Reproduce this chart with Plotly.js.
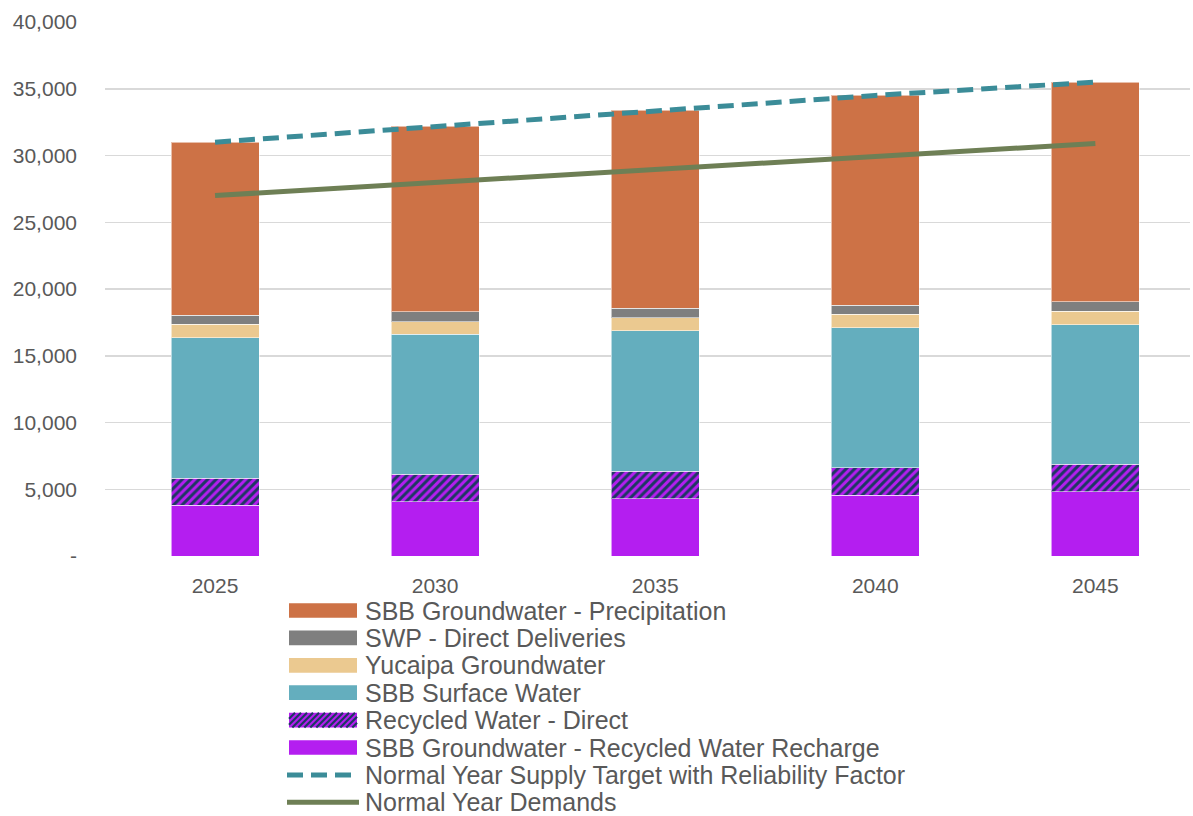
<!DOCTYPE html>
<html>
<head>
<meta charset="utf-8">
<script src="https://cdn.plot.ly/plotly-3.0.1.min.js"></script>
<style>html,body{margin:0;padding:0;background:#fff;}#chart{width:1193px;height:816px;}</style>
</head>
<body>
<div id="chart"></div>
<script>
const years = ['2025', '2030', '2035', '2040', '2045'];
const recharge = [3800, 4050, 4300, 4550, 4800];
const recycledDirect = [2025, 2075, 2050, 2050, 2055];
const surfaceWater = [10535, 10490, 10535, 10510, 10480];
const yucaipa = [1005, 945, 975, 1005, 1005];
const swpDirect = [675, 750, 705, 675, 720];
const precipitation = [12960, 13870, 14815, 15710, 16440];
const supplyTarget = [31000, 32180, 33380, 34500, 35500];
const demands = [27000, 27980, 28960, 29940, 30900];
const yTickVals = [0, 5000, 10000, 15000, 20000, 25000, 30000, 35000, 40000];
const yTickText = ['-', '5,000', '10,000', '15,000', '20,000', '25,000', '30,000', '35,000', '40,000'];

const C = {
  recharge: '#B41EF0', hatch: '#1E3862', surface: '#64AEBE', yucaipa: '#EBC990',
  swp: '#7F7F7F', precip: '#CD7246', supply: '#3B8C98', demand: '#6E7F55'
};

const edge = {color: 'rgba(255,255,255,0.55)', width: 1};
function bar(name, vals, color, pattern) {
  const m = {color: color, line: edge};
  if (pattern) m.pattern = pattern;
  return {type: 'bar', name: name, x: years, y: vals, marker: m, hoverinfo: 'name+y'};
}
const hatchPattern = {shape: '/', fgcolor: C.hatch, bgcolor: C.recharge, size: 6, solidity: 0.5};
const traces = [
  bar('SBB Groundwater - Recycled Water Recharge', recharge, C.recharge),
  bar('Recycled Water - Direct', recycledDirect, C.recharge, hatchPattern),
  bar('SBB Surface Water', surfaceWater, C.surface),
  bar('Yucaipa Groundwater', yucaipa, C.yucaipa),
  bar('SWP - Direct Deliveries', swpDirect, C.swp),
  bar('SBB Groundwater - Precipitation', precipitation, C.precip),
  {type: 'scatter', mode: 'lines', name: 'Normal Year Supply Target with Reliability Factor',
   x: years, y: supplyTarget, line: {color: C.supply, width: 5, dash: '16px,8px'}},
  {type: 'scatter', mode: 'lines', name: 'Normal Year Demands',
   x: years, y: demands, line: {color: C.demand, width: 5}}
];

// ---- layout geometry (pixels) ----
const W = 1193, H = 816;
const M = {l: 105, r: 3, t: 22, b: 260};
const PW = W - M.l - M.r, PH = H - M.t - M.b;
const px = x => (x - M.l) / PW;
const py = y => (H - M.b - y) / PH;

// ---- custom legend (order as in reference) ----
const legendOrder = [5, 4, 3, 2, 1, 0, 6, 7];
const legRow0 = 610.5, legStep = 27.4, swX0 = 289, swX1 = 357, swH = 14.7, textX = 364;
const shapes = [], annotations = [];
legendOrder.forEach((ti, i) => {
  const tr = traces[ti];
  const cy = legRow0 + i * legStep;
  if (tr.type === 'bar') {
    shapes.push({type: 'rect', xref: 'paper', yref: 'paper',
      x0: px(swX0), x1: px(swX1), y0: py(cy + swH / 2), y1: py(cy - swH / 2),
      fillcolor: tr.marker.color, line: {width: 0}});
    if (tr.marker.pattern) {
      // diagonal "/" stripes clipped to the swatch
      const y0 = cy - swH / 2, y1 = cy + swH / 2, period = 6;
      for (let c = swX0 + y0; c < swX1 + y1 + period; c += period) {
        const pts = [];
        const cand = [[c - y1, y1], [c - y0, y0], [swX0, c - swX0], [swX1, c - swX1]];
        cand.forEach(p => {
          if (p[0] >= swX0 - 1e-6 && p[0] <= swX1 + 1e-6 && p[1] >= y0 - 1e-6 && p[1] <= y1 + 1e-6) pts.push(p);
        });
        if (pts.length >= 2) {
          pts.sort((a, b) => a[0] - b[0]);
          const a = pts[0], b = pts[pts.length - 1];
          if (Math.abs(a[0] - b[0]) > 0.5) {
            shapes.push({type: 'line', xref: 'paper', yref: 'paper',
              x0: px(a[0]), y0: py(a[1]), x1: px(b[0]), y1: py(b[1]),
              line: {color: C.hatch, width: 2.2}});
          }
        }
      }
    }
  } else {
    const x1 = tr.line.dash ? 352 : 359;
    shapes.push({type: 'line', xref: 'paper', yref: 'paper',
      x0: px(287), x1: px(x1), y0: py(cy), y1: py(cy),
      line: {color: tr.line.color, width: 5, dash: tr.line.dash || 'solid'}});
  }
  annotations.push({xref: 'paper', yref: 'paper', x: px(textX), y: py(cy),
    xanchor: 'left', yanchor: 'middle', showarrow: false, text: tr.name, borderpad: 0,
    font: {family: 'Liberation Sans, Arial, sans-serif', size: 25, color: '#595959'}});
});

const layout = {
  width: W, height: H,
  margin: M,
  paper_bgcolor: '#ffffff', plot_bgcolor: '#ffffff',
  barmode: 'stack', bargap: 0.6,
  showlegend: false,
  font: {family: 'Liberation Sans, Arial, sans-serif', color: '#595959', size: 21},
  xaxis: {type: 'category', range: [-0.5, 4.43], showgrid: false, zeroline: false,
          showline: false, ticks: '', ticklabelstandoff: 15,
          tickfont: {size: 21, color: '#595959'}},
  yaxis: {range: [0, 40000], tickvals: yTickVals, ticktext: yTickText,
          showgrid: true, gridcolor: '#D9D9D9', gridwidth: 1.5, zeroline: false,
          showline: false, ticks: '', ticklabelstandoff: 27,
          tickfont: {size: 21, color: '#595959'}},
  shapes: shapes,
  annotations: annotations
};
Plotly.newPlot('chart', traces, layout, {displayModeBar: false, staticPlot: true});
</script>
</body>
</html>
